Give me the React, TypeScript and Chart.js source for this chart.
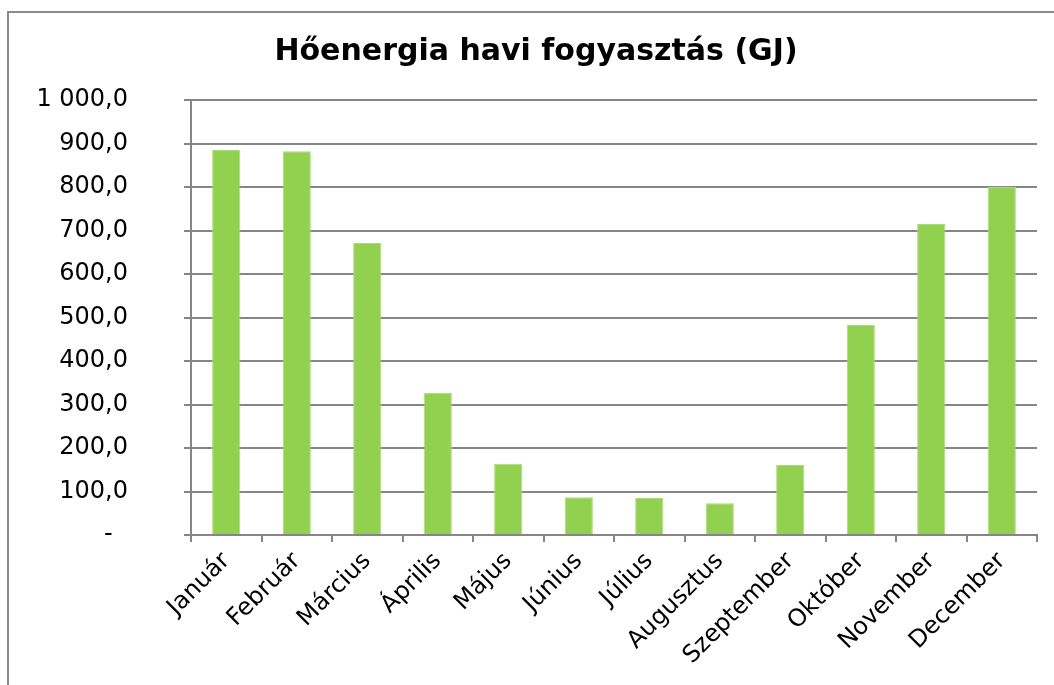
import React, { useEffect, useRef } from "react";
import { Chart, registerables } from "chart.js";

Chart.register(...registerables);

const TITLE = "Hőenergia havi fogyasztás (GJ)";
const MONTHS = [
  "Január", "Február", "Március", "Április", "Május", "Június",
  "Július", "Augusztus", "Szeptember", "Október", "November", "December",
];
const CONSUMPTION_GJ = [885, 882, 671, 327, 164, 87, 85, 73, 161, 483, 715, 800];
const Y_MIN = 0;
const Y_MAX = 1000;
const Y_STEP = 100;

const FONT = "'DejaVu Sans', Verdana, sans-serif";

function formatTick(v: number): string {
  if (v === 0) return "-  ";
  const fixed = v.toFixed(1);
  const [intPart, dec] = fixed.split(".");
  const withSpaces = intPart.replace(/\B(?=(\d{3})+(?!\d))/g, " ");
  return withSpaces + "," + dec;
}

export default function App() {
  const ref = useRef<HTMLCanvasElement | null>(null);

  useEffect(() => {
    if (!ref.current) return;
    const chart = new Chart(ref.current, {
      type: "bar",
      data: {
        labels: MONTHS,
        datasets: [
          {
            data: CONSUMPTION_GJ,
            backgroundColor: "#92D050",
            borderColor: "#A8DC78",
            borderWidth: 1,
            barPercentage: 0.4,
            categoryPercentage: 1,
          },
        ],
      },
      options: {
        animation: false,
        responsive: false,
        maintainAspectRatio: false,
        layout: { padding: { top: 21, right: 26, bottom: 0, left: 26 } },
        plugins: {
          legend: { display: false },
          tooltip: { enabled: false },
          title: {
            display: true,
            text: TITLE,
            color: "#000",
            font: { family: FONT, size: 30, weight: "bold" },
            padding: { top: 0, bottom: 30 },
          },
        },
        scales: {
          x: {
            offset: true,
            grid: {
              offset: true,
              drawOnChartArea: false,
              drawTicks: true,
              tickLength: 7,
              color: "#868686",
              lineWidth: 2,
            },
            border: { display: true, color: "#868686", width: 2 },
            ticks: {
              color: "#000",
              font: { family: FONT, size: 24 },
              maxRotation: 45,
              minRotation: 45,
              autoSkip: false,
              padding: 5,
              labelOffset: 0,
            },
            afterFit: (scale: any) => {
              scale.height = 150;
            },
          },
          y: {
            min: Y_MIN,
            max: Y_MAX,
            grid: {
              color: "#868686",
              lineWidth: 2,
              drawTicks: true,
              tickLength: 7,
            },
            border: { display: true, color: "#868686", width: 2 },
            ticks: {
              stepSize: Y_STEP,
              color: "#000",
              font: { family: FONT, size: 24 },
              padding: 56,
              callback: (v: any) => formatTick(Number(v)),
            },
            afterFit: (scale: any) => {
              scale.width = 156;
            },
          },
        },
      },
    });
    return () => chart.destroy();
  }, []);

  return (
    <div
      style={{
        position: "fixed",
        left: 0,
        top: 0,
        width: 1054,
        height: 685,
        overflow: "hidden",
        background: "#fff",
      }}
    >
      <div
        style={{
          position: "absolute",
          left: 7,
          top: 11,
          width: 1070,
          height: 700,
          borderLeft: "2px solid #8a8a8a",
          borderTop: "2px solid #8a8a8a",
        }}
      >
        <canvas ref={ref} width={1054} height={672} style={{ display: "block" }} />
      </div>
    </div>
  );
}
